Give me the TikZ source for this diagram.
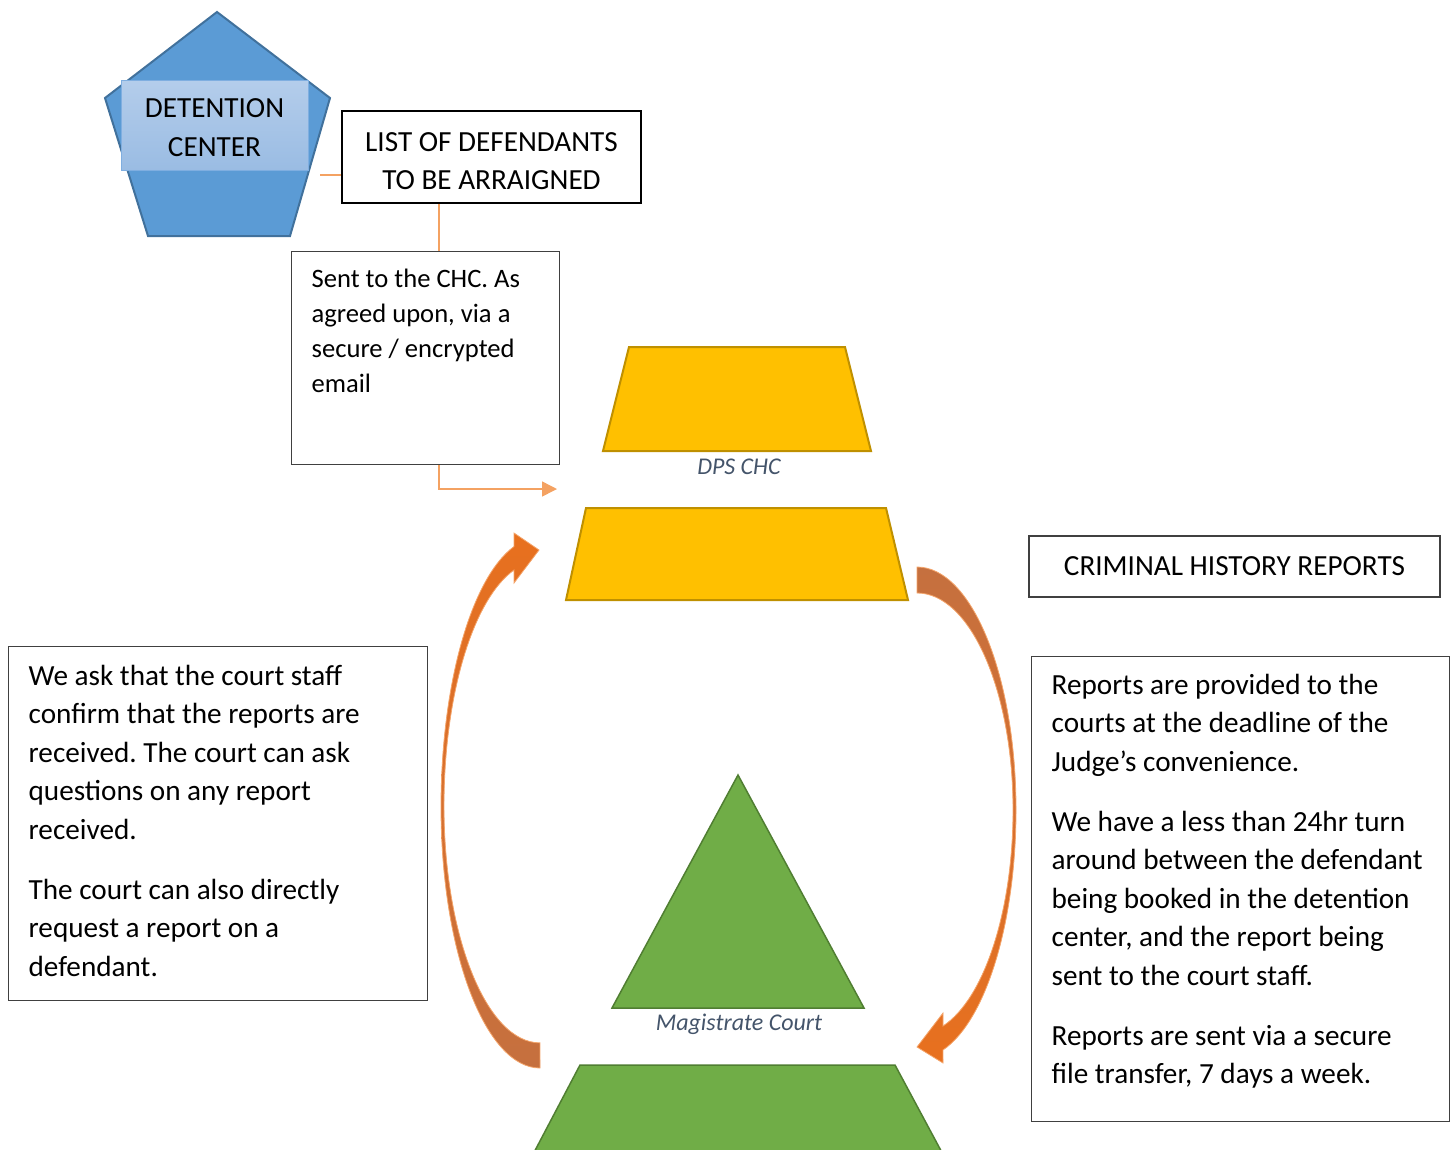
\documentclass[tikz,border=0pt]{standalone}
\usepackage{fontspec}
\setmainfont{Carlito}
\usetikzlibrary{arrows.meta}
\frenchspacing
\definecolor{pentafill}{HTML}{5B9BD5}
\definecolor{pentaline}{HTML}{41719C}
\definecolor{labtop}{HTML}{B4CDEB}
\definecolor{labbot}{HTML}{9ABCE3}
\definecolor{labline}{HTML}{7FAEE0}
\definecolor{linkor}{HTML}{F4A262}
\definecolor{chcfill}{HTML}{FFC000}
\definecolor{chcline}{HTML}{BF9000}
\definecolor{courtfill}{HTML}{70AD47}
\definecolor{courtline}{HTML}{507E32}
\definecolor{capblue}{HTML}{44546A}
\definecolor{arrowor}{HTML}{E8701E}
\definecolor{arrowbr}{HTML}{C5703F}
\definecolor{arrowrim}{HTML}{F4A56B}
\definecolor{boxgray}{HTML}{404040}
\newcommand\txtbig{\fontsize{29.2}{38.5}\selectfont}
\newcommand\txtsmall{\fontsize{26.6}{35}\selectfont}
\begin{document}
\begin{tikzpicture}[x=1pt,y=-1pt,
  linkline/.style={draw=linkor, line width=1.5pt},
  txtbox/.style={draw=boxgray, line width=1.3pt, anchor=north west, inner xsep=20pt, align=left},
  headbox/.style={draw=boxgray, line width=1.3pt, inner sep=0pt, align=center, font=\txtbig},
  captext/.style={font=\fontsize{24}{29}\selectfont\itshape, text=capblue},
  curvearrow/.style={draw=arrowrim, line width=0.8pt}]
\useasboundingbox (0,0) rectangle (1455,1149);
\clip (0,0) rectangle (1455,1149);

\draw [fill=pentafill, draw=pentaline, line width=2pt] (217,12) -- (330,98) -- (290,236) -- (148,236) -- (105,98) -- cycle;
\node [draw=labline, line width=1pt, top color=labtop, bottom color=labbot, minimum width=187pt, minimum height=90pt, align=center, font=\txtbig] (dc) at (214.5,125) {\rule{0pt}{24pt}DETENTION\\CENTER};

\draw [fill=chcfill, draw=chcline, line width=2pt] (629,347) -- (845,347) -- (871,451) -- (603,451) -- cycle;
\draw [fill=chcfill, draw=chcline, line width=2pt] (586,508) -- (886,508) -- (908,600) -- (566,600) -- cycle;
\node [captext] (dps) at (739,467) {DPS CHC};

\draw [fill=courtfill, draw=courtline, line width=1.5pt] (738,775) -- (864,1008) -- (612,1008) -- cycle;
\draw [fill=courtfill, draw=courtline, line width=1.5pt] (580,1065) -- (895,1065) -- (946,1160) -- (530,1160) -- cycle;
\node [captext] (court) at (739,1024) {Magistrate Court};

\draw [curvearrow, top color=arrowor, bottom color=arrowbr] (540,1068) arc[start angle=90, end angle=180, x radius=99, y radius=261] arc[start angle=180, end angle=254.8, x radius=99, y radius=270] -- (514,533) -- (539,550) -- (514,583) -- (514,570) arc[start angle=254.3, end angle=180, x radius=96, y radius=245] arc[start angle=180, end angle=90, x radius=96, y radius=237] -- cycle;
\draw [curvearrow, top color=arrowbr, bottom color=arrowor] (917,567) arc[start angle=270, end angle=360, x radius=99, y radius=243] arc[start angle=0, end angle=74.8, x radius=99, y radius=248.7] -- (943,1063) -- (917,1047) -- (943,1013) -- (943,1026) arc[start angle=74.3, end angle=0, x radius=96, y radius=224.4] arc[start angle=0, end angle=-90, x radius=96, y radius=217] -- cycle;

\node [headbox, draw=black, line width=2.5pt, minimum width=299pt, minimum height=92pt] (lst) at (491.5,157) {\strut LIST OF DEFENDANTS\\TO BE ARRAIGNED};
\node [headbox, minimum width=411pt, minimum height=61pt] (chr) at (1234.5,566.5) {CRIMINAL HISTORY REPORTS};

\node [txtbox, inner ysep=11.5pt] (sent) at (291,251) {\parbox[c][190pt][t]{228pt}{\txtsmall\raggedright\strut Sent to the CHC. As\\agreed upon, via a\\secure / encrypted\\email}};
\node [txtbox, inner ysep=11.6pt] (ask) at (8,646) {\parbox[c][330.8pt][t]{379pt}{\txtbig\raggedright\strut We ask that the court staff\\confirm that the reports are\\received. The court can ask\\questions on any report\\received.\\[21.5pt]The court can also directly\\request a report on a\\defendant.}};
\node [txtbox, inner ysep=10.5pt] (rep) at (1031,656) {\parbox[c][444pt][t]{378pt}{\txtbig\raggedright\strut Reports are provided to the\\courts at the deadline of the\\Judge’s convenience.\\[21.5pt]We have a less than 24hr turn\\around between the defendant\\being booked in the detention\\center, and the report being\\sent to the court staff.\\[21.5pt]Reports are sent via a secure\\file transfer, 7 days a week.}};

\coordinate (dcout) at (320,175);
\coordinate (tap) at (439,0);
\coordinate (chcin) at (557,489);
\draw [linkline] (dcout) -- (lst.west |- dcout);
\draw [linkline] (lst.south -| tap) -- (sent.north -| tap);
\draw [linkline, -{Triangle[length=15pt,width=15pt]}] (sent.south -| tap) |- (chcin);
\end{tikzpicture}
\end{document}
